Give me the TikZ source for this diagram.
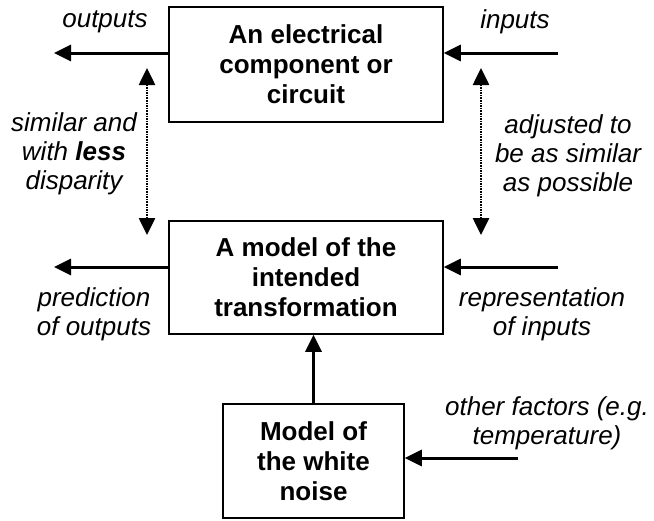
\documentclass[tikz,border=0pt]{standalone}
\usepackage{fontspec}
\setmainfont{Liberation Sans}
\usetikzlibrary{arrows.meta}
\begin{document}
\begin{tikzpicture}[x=1pt,y=-1pt,
  box/.style={draw,line width=1.6pt,align=center,font=\fontsize{26}{30}\selectfont\bfseries,inner sep=0pt},
  lbl/.style={align=center,font=\fontsize{26}{29}\selectfont\itshape,inner sep=0pt},
  arr/.style={line width=3pt,-{Triangle[length=17pt,width=16pt]}},
  darr/.style={line width=2.6pt,dash pattern=on 1.6pt off 1pt,{Triangle[length=17pt,width=16pt]}-{Triangle[length=17pt,width=16pt]}}]
\useasboundingbox (0,0) rectangle (654,520);
\node[box,minimum width=274pt,minimum height=115pt] (b1) at (306,64.5) {An electrical\\component or\\circuit};
\node[box,minimum width=274pt,minimum height=113pt] (b2) at (306,277.5) {A model of the\\intended\\transformation};
\node[box,minimum width=181pt,minimum height=114pt] (b3) at (313.5,461) {Model of\\the white\\noise};
\coordinate (o1) at (54,53);
\coordinate (i1) at (558,53);
\coordinate (o2) at (54,267);
\coordinate (i2) at (558,267);
\coordinate (f3) at (518,458);
\coordinate (dlt) at (147,68);
\coordinate (dlb) at (147,235);
\coordinate (drt) at (481,68);
\coordinate (drb) at (481,235);
\draw[arr] (b1.west |- o1) -- (o1);
\draw[arr] (i1) -- (b1.east |- i1);
\draw[arr] (b2.west |- o2) -- (o2);
\draw[arr] (i2) -- (b2.east |- i2);
\draw[arr] (f3) -- (b3.east |- f3);
\draw[arr] (b3.north) -- (b3.north |- b2.south);
\draw[darr] (dlt) -- (dlb);
\draw[darr] (drt) -- (drb);
\node[lbl] (lo) at (105,22) {outputs};
\node[lbl] (li) at (515,22) {inputs};
\node[lbl] (ls) at (74,154) {similar and\\with \textbf{less}\\disparity};
\node[lbl] (la) at (568,156) {adjusted to\\be as similar\\as possible};
\node[lbl] (lp) at (94,314) {prediction\\of outputs};
\node[lbl] (lr) at (542,314) {representation\\of inputs};
\node[lbl] (lf) at (547,423) {other factors (e.g.\\temperature)};
\end{tikzpicture}
\end{document}
